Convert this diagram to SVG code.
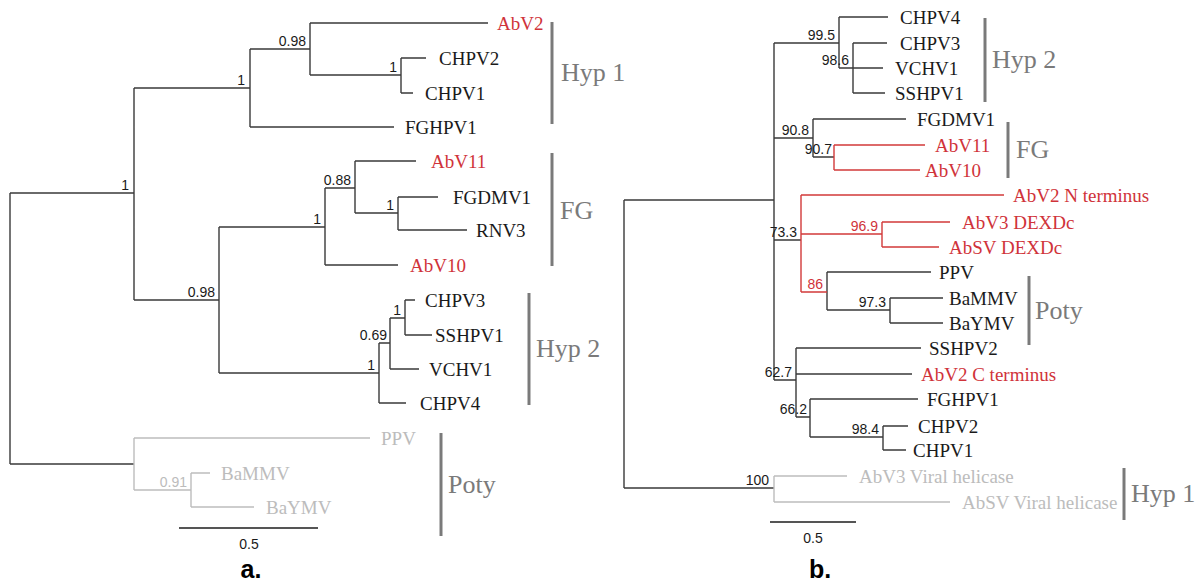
<svg xmlns="http://www.w3.org/2000/svg" width="1204" height="585" viewBox="0 0 1204 585">
<style>
.k{fill:none;stroke:#3a3a3a;stroke-width:1.4}
.r{fill:none;stroke:#d23a3a;stroke-width:1.4}
.g{fill:none;stroke:#bdbdbd;stroke-width:1.4}
.bar{stroke:#7a7a7a;stroke-width:3}
.sc{stroke:#555;stroke-width:2}
.t{font-family:"Liberation Serif",serif;font-size:19px;fill:#1a1a1a}
.tr{font-family:"Liberation Serif",serif;font-size:19px;fill:#d0333a}
.tg{font-family:"Liberation Serif",serif;font-size:19px;fill:#bcbcbc}
.s{font-family:"Liberation Sans",sans-serif;font-size:14px;fill:#1a1a1a;text-anchor:end}
.sr{font-family:"Liberation Sans",sans-serif;font-size:14px;fill:#d0333a;text-anchor:end}
.sg{font-family:"Liberation Sans",sans-serif;font-size:14px;fill:#bcbcbc;text-anchor:end}
.grp{font-family:"Liberation Serif",serif;font-size:26px;fill:#7a7a7a}
.sl{font-family:"Liberation Sans",sans-serif;font-size:14px;fill:#1a1a1a;text-anchor:middle}
.pl{font-family:"Liberation Sans",sans-serif;font-size:25px;font-weight:bold;fill:#000;text-anchor:middle}
</style>
<g id="connectors">
<path class="k" d="M10 193V464M10 193H134M10 464H134M134 88V300M134 88H250M134 300H219M250 49V127M250 49H310M250 127H394M310 23V75M310 23H488M310 75H401M401 58V93M401 58H426M401 93H413M219 227V373M219 227H325M219 373H379M325 188V265M325 188H355M325 265H398M355 161V213M355 161H416M355 213H398M398 197V230M398 197H438M398 230H467M379 343V403M379 343H390M379 403H406M390 318V369M390 318H405M390 369H419M405 300V335M405 300H415M405 335H432"/>
<path class="g" d="M134 438V490M134 438H370M134 490H191M191 473V507M191 473H210M191 507H254"/>
<path class="k" d="M624 200V488M624 200H774M624 488H774M774 43V380M774 43H839M774 138H813M774 240H801M774 380H796M839 17V68M839 17H888M839 68H853M853 43V93M853 43H887M853 68H883M853 93H885M813 119V157M813 119H906M813 157H834M827 272V310M827 272H931M827 310H890M890 298V323M890 298H943M890 323H943M796 348V417M796 348H921M796 374H912M796 417H810M810 399V437M810 399H918M810 437H883M883 426V450M883 426H908M883 450H906"/>
<path class="r" d="M834 145V170M834 145H925M834 170H920M801 195V292M801 195H1004M801 234H882M801 292H827M882 222V247M882 222H950M882 247H939"/>
<path class="g" d="M774 476V502M774 476H847M774 502H950"/>
</g>
<g id="tree-a-support">
<text class="s" x="129" y="190">1</text>
<text class="s" x="245" y="85">1</text>
<text class="s" x="306" y="46">0.98</text>
<text class="s" x="397" y="72">1</text>
<text class="s" x="321" y="224">1</text>
<text class="s" x="215" y="297">0.98</text>
<text class="s" x="351" y="185">0.88</text>
<text class="s" x="394" y="210">1</text>
<text class="s" x="375" y="370">1</text>
<text class="s" x="387" y="340">0.69</text>
<text class="s" x="401" y="315">1</text>
<text class="sg" x="187" y="487">0.91</text>
</g>
<g id="a-AbV2"><text class="tr" x="497" y="30">AbV2</text></g>
<g id="a-CHPV2"><text class="t" x="439" y="65">CHPV2</text></g>
<g id="a-CHPV1"><text class="t" x="425" y="100">CHPV1</text></g>
<g id="a-FGHPV1"><text class="t" x="405" y="134">FGHPV1</text></g>
<g id="a-AbV11"><text class="tr" x="431" y="168">AbV11</text></g>
<g id="a-FGDMV1"><text class="t" x="453" y="204">FGDMV1</text></g>
<g id="a-RNV3"><text class="t" x="476" y="237">RNV3</text></g>
<g id="a-AbV10"><text class="tr" x="410" y="272">AbV10</text></g>
<g id="a-CHPV3"><text class="t" x="425" y="307">CHPV3</text></g>
<g id="a-SSHPV1"><text class="t" x="435" y="342">SSHPV1</text></g>
<g id="a-VCHV1"><text class="t" x="429" y="376">VCHV1</text></g>
<g id="a-CHPV4"><text class="t" x="420" y="410">CHPV4</text></g>
<g id="a-PPV"><text class="tg" x="381" y="445">PPV</text></g>
<g id="a-BaMMV"><text class="tg" x="221" y="480">BaMMV</text></g>
<g id="a-BaYMV"><text class="tg" x="266" y="514">BaYMV</text></g>
<g id="a-group-Hyp1"><line class="bar" x1="552" y1="22" x2="552" y2="124"/><text class="grp" x="561" y="81">Hyp 1</text></g>
<g id="a-group-FG"><line class="bar" x1="552" y1="153" x2="552" y2="266"/><text class="grp" x="560" y="219">FG</text></g>
<g id="a-group-Hyp2"><line class="bar" x1="529" y1="293" x2="529" y2="405"/><text class="grp" x="536" y="357">Hyp 2</text></g>
<g id="a-group-Poty"><line class="bar" x1="441" y1="433" x2="441" y2="536"/><text class="grp" x="448" y="493">Poty</text></g>
<g id="a-scale"><line class="sc" x1="179" y1="528" x2="318" y2="528"/><text class="sl" x="249" y="549">0.5</text></g>
<g id="a-label"><text class="pl" x="251" y="578">a.</text></g>
<g id="tree-b-support">
<text class="s" x="835" y="40">99.5</text>
<text class="s" x="849" y="65">98.6</text>
<text class="s" x="809" y="135">90.8</text>
<text class="s" x="832" y="154">90.7</text>
<text class="s" x="797" y="237">73.3</text>
<text class="sr" x="878" y="231">96.9</text>
<text class="sr" x="823" y="289">86</text>
<text class="s" x="886" y="307">97.3</text>
<text class="s" x="792" y="377">62.7</text>
<text class="s" x="807" y="414">66.2</text>
<text class="s" x="879" y="434">98.4</text>
<text class="s" x="769" y="485">100</text>
</g>
<g id="b-CHPV4"><text class="t" x="900" y="24">CHPV4</text></g>
<g id="b-CHPV3"><text class="t" x="900" y="50">CHPV3</text></g>
<g id="b-VCHV1"><text class="t" x="895" y="75">VCHV1</text></g>
<g id="b-SSHPV1"><text class="t" x="895" y="100">SSHPV1</text></g>
<g id="b-FGDMV1"><text class="t" x="917" y="126">FGDMV1</text></g>
<g id="b-AbV11"><text class="tr" x="935" y="152">AbV11</text></g>
<g id="b-AbV10"><text class="tr" x="925" y="177">AbV10</text></g>
<g id="b-AbV2N"><text class="tr" x="1013" y="202">AbV2 N terminus</text></g>
<g id="b-AbV3DEXDc"><text class="tr" x="962" y="229">AbV3 DEXDc</text></g>
<g id="b-AbSVDEXDc"><text class="tr" x="949" y="254">AbSV DEXDc</text></g>
<g id="b-PPV"><text class="t" x="939" y="279">PPV</text></g>
<g id="b-BaMMV"><text class="t" x="949" y="305">BaMMV</text></g>
<g id="b-BaYMV"><text class="t" x="949" y="330">BaYMV</text></g>
<g id="b-SSHPV2"><text class="t" x="929" y="355">SSHPV2</text></g>
<g id="b-AbV2C"><text class="tr" x="921" y="381">AbV2 C terminus</text></g>
<g id="b-FGHPV1"><text class="t" x="927" y="406">FGHPV1</text></g>
<g id="b-CHPV2"><text class="t" x="918" y="433">CHPV2</text></g>
<g id="b-CHPV1"><text class="t" x="913" y="457">CHPV1</text></g>
<g id="b-AbV3VH"><text class="tg" x="859" y="483">AbV3 Viral helicase</text></g>
<g id="b-AbSVVH"><text class="tg" x="962" y="509">AbSV Viral helicase</text></g>
<g id="b-group-Hyp2"><line class="bar" x1="985" y1="18" x2="985" y2="102"/><text class="grp" x="992" y="68">Hyp 2</text></g>
<g id="b-group-FG"><line class="bar" x1="1008" y1="122" x2="1008" y2="178"/><text class="grp" x="1016" y="158">FG</text></g>
<g id="b-group-Poty"><line class="bar" x1="1029" y1="276" x2="1029" y2="345"/><text class="grp" x="1035" y="319">Poty</text></g>
<g id="b-group-Hyp1"><line class="bar" x1="1124" y1="468" x2="1124" y2="520"/><text class="grp" x="1131" y="502">Hyp 1</text></g>
<g id="b-scale"><line class="sc" x1="770" y1="522" x2="856" y2="522"/><text class="sl" x="813" y="543">0.5</text></g>
<g id="b-label"><text class="pl" x="820" y="578">b.</text></g>
</svg>
